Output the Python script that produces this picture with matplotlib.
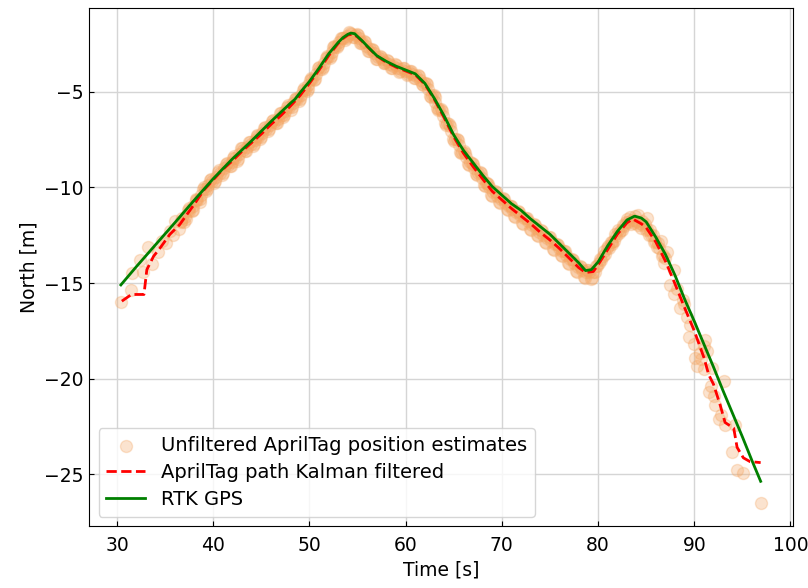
import matplotlib.pyplot as plt

# --- RTK GPS ---
gps_t = [30.4, 32, 34, 36, 38, 40, 42, 44, 46, 48, 48.5, 49, 50, 51, 52, 53, 53.5, 54, 54.3,
         54.7, 55, 55.5, 56, 57, 58, 59, 60, 61, 62, 63, 64, 65, 66, 67, 68, 69, 70, 71, 72,
         73, 74, 75, 76, 77, 78, 78.7, 79.3, 80, 81, 82, 83, 83.8, 84.5, 85, 86, 87, 88, 89,
         90, 91, 92, 93, 94, 95, 96, 96.9]
gps_n = [-15.1, -14.15, -13.0, -11.85, -10.68, -9.54, -8.5, -7.55, -6.55, -5.6, -5.38, -5.05,
         -4.45, -3.75, -3.0, -2.4, -2.15, -1.98, -1.92, -1.95, -2.1, -2.33, -2.6, -3.1, -3.4,
         -3.65, -3.85, -4.05, -4.55, -5.35, -6.25, -7.25, -8.05, -8.7, -9.35, -9.95, -10.4,
         -10.85, -11.2, -11.65, -12.05, -12.45, -12.95, -13.45, -13.95, -14.35, -14.3, -13.9,
         -13.05, -12.3, -11.7, -11.5, -11.6, -11.8, -12.6, -13.5, -14.6, -15.85, -17.0, -18.2,
         -19.4, -20.65, -21.85, -23.05, -24.3, -25.38]

# --- AprilTag Kalman ---
kf_t = [30.5, 31.5, 32.8, 33.1, 33.8, 34.5, 35.5, 36.5, 38, 39, 40, 41, 42, 43, 44, 45, 46,
        47, 48, 49, 50, 51, 52, 53, 53.5, 54, 54.5, 55, 55.5, 56, 57, 58, 59, 60, 61, 62, 63,
        64, 65, 66, 67, 68, 69, 70, 71, 72, 73, 74, 75, 76, 77, 78, 78.7, 79.5, 80, 81, 82,
        83, 83.6, 84.5, 85, 86, 87, 88, 89, 90, 91, 91.5, 92, 92.7, 93.2, 94.1, 94.45, 95.1,
        95.8, 96.9]
kf_n = [-15.95, -15.6, -15.6, -14.3, -13.6, -13.15, -12.45, -11.95, -10.9, -10.15, -9.6,
        -9.05, -8.6, -8.1, -7.65, -7.2, -6.7, -6.25, -5.75, -5.2, -4.55, -3.85, -3.1, -2.45,
        -2.2, -2.02, -1.97, -2.12, -2.36, -2.62, -3.12, -3.45, -3.7, -3.9, -4.1, -4.6, -5.4,
        -6.35, -7.35, -8.2, -8.9, -9.55, -10.2, -10.65, -11.1, -11.5, -11.9, -12.35, -12.75,
        -13.2, -13.7, -14.2, -14.45, -14.4, -14.05, -13.25, -12.45, -11.85, -11.65, -11.9,
        -12.1, -12.85, -13.85, -15.05, -16.3, -17.5, -18.9, -19.8, -20.3, -21.4, -22.3, -22.6,
        -23.6, -24.15, -24.35, -24.4]

# --- AprilTag brut (1ere serie) ---
raw_t = [30.4, 31.45, 31.6, 32.4, 32.7, 33.2, 33.6, 34.3, 34.7, 35.1, 35.5, 35.8, 36.05, 36.4,
         36.8, 37.2, 37.5, 37.9, 38.2, 38.6, 38.9, 39.3, 39.7, 40.1, 40.5, 40.9, 41.3, 41.7,
         42.1, 42.5, 42.9, 43.3, 43.7, 44.1, 44.5, 44.9, 45.3, 45.7, 46.1, 46.5, 46.9, 47.3,
         47.7, 48.1, 48.5, 48.9, 49.3, 49.7, 50.1, 50.5, 50.9, 51.3, 51.7, 52.1, 52.5, 52.9,
         53.3, 53.7, 54.1, 54.5, 54.9, 55.3, 55.7, 56.1, 56.5, 56.9, 57.3, 57.7, 58.1, 58.5,
         58.9, 59.3, 59.7, 60.1, 60.5, 60.9, 61.3, 61.7, 62.1, 62.5, 62.9, 63.3, 63.7, 64.1,
         64.5, 64.9, 65.3, 65.7, 66.1, 66.5, 66.9, 67.3, 67.7, 68.1, 68.5, 68.9, 69.3, 69.7,
         70.1, 70.5, 70.9, 71.3, 71.7, 72.1, 72.5, 72.9, 73.3, 73.7, 74.1, 74.5, 74.9, 75.3,
         75.7, 76.1, 76.5, 76.9, 77.3, 77.7, 78.1, 78.5, 78.9, 79.3, 79.7, 80.1, 80.5, 80.9,
         81.3, 81.7, 82.1, 82.5, 82.9, 83.3, 83.7, 84.1, 84.5, 84.9, 85.1, 85.3, 85.7, 86.1,
         86.5, 86.9, 87.2, 87.5, 87.86, 87.9, 88.55, 88.8, 89.25, 89.4, 89.94, 90.3, 90.6,
         90.98, 91.15, 91.33, 91.5, 91.85, 92.2, 92.54, 93.06, 93.23, 93.93, 94.27, 94.45,
         95.1, 96.9]
raw_n = [-15.98, -15.35, -14.48, -13.8, -14.43, -13.1, -14.0, -13.4, -12.8, -12.9, -12.28,
         -12.5, -11.76, -12.15, -11.6, -11.65, -11.1, -11.2, -10.6, -10.75, -10.1, -10.2,
         -9.6, -9.75, -9.2, -9.35, -8.75, -8.9, -8.45, -8.6, -7.95, -8.1, -7.6, -7.85, -7.3,
         -7.45, -6.9, -7.05, -6.5, -6.65, -6.1, -6.3, -5.8, -5.95, -5.35, -5.45, -4.9, -4.95,
         -4.35, -4.4, -3.75, -3.8, -3.2, -3.2, -2.65, -2.65, -2.2, -2.3, -1.85, -2.1, -1.95,
         -2.45, -2.35, -2.85, -2.75, -3.25, -3.1, -3.5, -3.35, -3.75, -3.55, -3.95, -3.72,
         -4.1, -3.88, -4.25, -4.1, -4.6, -4.55, -5.2, -5.15, -5.85, -5.9, -6.65, -6.7, -7.45,
         -7.45, -8.15, -8.1, -8.75, -8.7, -9.3, -9.2, -9.85, -9.75, -10.4, -10.2, -10.75,
         -10.55, -11.15, -10.95, -11.5, -11.25, -11.85, -11.6, -12.15, -11.9, -12.5, -12.25,
         -12.85, -12.6, -13.2, -12.95, -13.55, -13.3, -13.95, -13.75, -14.35, -14.1, -14.7,
         -14.3, -14.8, -14.4, -13.95, -13.6, -13.15, -12.85, -12.8, -12.2, -12.25, -11.8,
         -11.55, -11.85, -11.45, -12.1, -11.9, -11.59, -12.5, -12.5, -13.1, -12.8, -13.95,
         -13.4, -15.1, -14.34, -15.55, -16.33, -15.9, -16.76, -17.8, -18.2, -19.34, -18.65,
         -19.5, -17.96, -18.57, -20.72, -19.43, -21.41, -22.1, -20.12, -22.45, -23.83,
         -22.45, -24.77, -24.94, -26.5]

# --- AprilTag brut (2e serie) ---
raw2_t = [36.6, 37.0, 37.4, 37.8, 38.2, 38.6, 39.0, 39.4, 39.8, 40.2, 40.6, 41.0, 41.4, 41.8,
          42.2, 42.6, 43.0, 43.4, 43.8, 44.2, 44.6, 45.0, 45.4, 45.8, 46.2, 46.6, 47.0, 47.4,
          47.8, 48.2, 48.6, 49.0, 49.4, 49.8, 50.2, 50.6, 51.0, 51.4, 51.8, 52.2, 52.6, 53.0,
          53.4, 53.8, 54.2, 54.6, 55.0, 55.4, 55.8, 56.2, 56.6, 57.0, 57.4, 57.8, 58.2, 58.6,
          59.0, 59.4, 59.8, 60.2, 60.6, 61.0, 61.4, 61.8, 62.2, 62.6, 63.0, 63.4, 63.8, 64.2,
          64.6, 65.0, 65.4, 65.8, 66.2, 66.6, 67.0, 67.4, 67.8, 68.2, 68.6, 69.0, 69.4, 69.8,
          70.2, 70.6, 71.0, 71.4, 71.8, 72.2, 72.6, 73.0, 73.4, 73.8, 74.2, 74.6, 75.0, 75.4,
          75.8, 76.2, 76.6, 77.0, 77.4, 77.8, 78.2, 78.6, 79.0, 79.4, 79.8, 80.2, 80.6, 81.0,
          81.4, 81.8, 82.2, 82.6, 83.0, 83.4, 83.8, 84.2, 84.6, 85.0, 85.4, 85.8, 86.2, 86.6,
          87.0, 88.2, 88.9, 89.6, 90.1, 90.7, 91.0, 91.7, 92.0, 92.8]
raw2_n = [-11.75, -11.8, -11.2, -11.25, -10.65, -10.6, -10.0, -10.1, -9.55, -9.65, -9.1,
          -9.25, -8.7, -8.85, -8.35, -8.5, -7.95, -8.1, -7.6, -7.7, -7.25, -7.35, -6.85, -6.95,
          -6.45, -6.6, -6.1, -6.2, -5.7, -5.8, -5.3, -5.35, -4.8, -4.85, -4.25, -4.3, -3.7,
          -3.7, -3.1, -3.1, -2.6, -2.55, -2.15, -2.2, -1.9, -2.1, -2.0, -2.45, -2.4, -2.85,
          -2.8, -3.25, -3.15, -3.5, -3.4, -3.72, -3.6, -3.9, -3.75, -4.05, -3.9, -4.25, -4.15,
          -4.65, -4.6, -5.25, -5.25, -5.95, -6.0, -6.75, -6.8, -7.55, -7.5, -8.2, -8.2, -8.8,
          -8.75, -9.35, -9.25, -9.9, -9.8, -10.45, -10.25, -10.8, -10.6, -11.2, -10.95, -11.55,
          -11.3, -11.9, -11.6, -12.2, -11.95, -12.55, -12.3, -12.9, -12.6, -13.25, -13.0,
          -13.6, -13.35, -14.0, -13.8, -14.4, -14.15, -14.75, -14.3, -14.75, -14.1, -13.75,
          -13.3, -13.05, -12.95, -12.45, -12.4, -11.95, -11.65, -11.9, -11.5, -11.95, -11.75,
          -12.25, -12.25, -12.85, -12.9, -13.6, -13.7, -15.3, -16.1, -17.2, -18.9, -19.0,
          -18.3, -20.4, -20.9, -21.9]

# --- AprilTag brut (3e serie) ---
raw3_t = [36.7, 37.1, 37.5, 37.9, 38.3, 38.7, 39.1, 39.5, 39.9, 40.3, 40.7, 41.1, 41.5, 41.9,
          42.3, 42.7, 43.1, 43.5, 43.9, 44.3, 44.7, 45.1, 45.5, 45.9, 46.3, 46.7, 47.1, 47.5,
          47.9, 48.3, 48.7, 49.1, 49.5, 49.9, 50.3, 50.7, 51.1, 51.5, 51.9, 52.3, 52.7, 53.1,
          53.5, 53.9, 54.3, 54.7, 55.1, 55.5, 55.9, 56.3, 56.7, 57.1, 57.5, 57.9, 58.3, 58.7,
          59.1, 59.5, 59.9, 60.3, 60.7, 61.1, 61.5, 61.9, 62.3, 62.7, 63.1, 63.5, 63.9, 64.3,
          64.7, 65.1, 65.5, 65.9, 66.3, 66.7, 67.1, 67.5, 67.9, 68.3, 68.7, 69.1, 69.5, 69.9,
          70.3, 70.7, 71.1, 71.5, 71.9, 72.3, 72.7, 73.1, 73.5, 73.9, 74.3, 74.7, 75.1, 75.5,
          75.9, 76.3, 76.7, 77.1, 77.5, 77.9, 78.3, 78.7, 79.1, 79.5, 79.9, 80.3, 80.7, 81.1,
          81.5, 81.9, 82.3, 82.7, 83.1, 83.5, 83.9, 84.3, 84.7, 85.1, 85.5, 85.9, 86.3, 86.7]
raw3_n = [-11.81, -11.53, -11.25, -10.97, -10.68, -10.38, -10.1, -9.88, -9.66, -9.44, -9.22,
          -9.0, -8.83, -8.65, -8.45, -8.25, -8.06, -7.88, -7.7, -7.52, -7.34, -7.15, -6.95,
          -6.75, -6.57, -6.39, -6.2, -6.0, -5.8, -5.59, -5.37, -5.14, -4.88, -4.62, -4.34,
          -4.06, -3.78, -3.48, -3.18, -2.91, -2.65, -2.4, -2.2, -2.05, -1.99, -2.03, -2.17,
          -2.36, -2.57, -2.77, -2.97, -3.15, -3.29, -3.42, -3.53, -3.63, -3.72, -3.8, -3.88,
          -3.96, -4.04, -4.15, -4.35, -4.55, -4.84, -5.16, -5.5, -5.88, -6.26, -6.65, -7.05,
          -7.44, -7.78, -8.12, -8.41, -8.69, -8.97, -9.23, -9.49, -9.75, -10.0, -10.25, -10.43,
          -10.61, -10.79, -10.97, -11.14, -11.3, -11.46, -11.62, -11.78, -11.95, -12.13,
          -12.31, -12.47, -12.63, -12.8, -12.98, -13.16, -13.35, -13.55, -13.75, -13.95,
          -14.15, -14.31, -14.45, -14.43, -14.4, -14.12, -13.81, -13.49, -13.17, -12.85,
          -12.53, -12.27, -12.03, -11.82, -11.68, -11.74, -11.84, -11.98, -12.18, -12.48,
          -12.78, -13.15, -13.55]

# --- GRAPHIQUE ---
fig, ax = plt.subplots(figsize=(8.08, 5.88), dpi=100)
fig.subplots_adjust(left=0.110, right=0.981, top=0.986, bottom=0.105)

ax.scatter(raw_t, raw_n, s=75, color='sandybrown', alpha=0.3, zorder=2,
           label="Unfiltered AprilTag position estimates")
ax.scatter(raw2_t, raw2_n, s=75, color='sandybrown', alpha=0.3, zorder=2)
ax.scatter(raw3_t, raw3_n, s=75, color='sandybrown', alpha=0.3, zorder=2)
ax.plot(kf_t, kf_n, linestyle='--', color='red', linewidth=2, zorder=3,
        label="AprilTag path Kalman filtered")
ax.plot(gps_t, gps_n, linestyle='-', color='green', linewidth=2, zorder=4, label="RTK GPS")

ax.set_xticks([30, 40, 50, 60, 70, 80, 90, 100])
ax.set_yticks([-5, -10, -15, -20, -25])
ax.set_xlabel("Time [s]", fontsize=13.5)
ax.set_ylabel("North [m]", fontsize=13.5)
ax.tick_params(direction='in', labelsize=13.5)
ax.tick_params(axis='x', pad=7)
ax.tick_params(axis='y', pad=4)
ax.grid(True, color='#d5d5d5', linewidth=1)
ax.set_axisbelow(True)
ax.legend(loc='lower left', fontsize=14, labelspacing=0.4)

fig.savefig("out.png")
